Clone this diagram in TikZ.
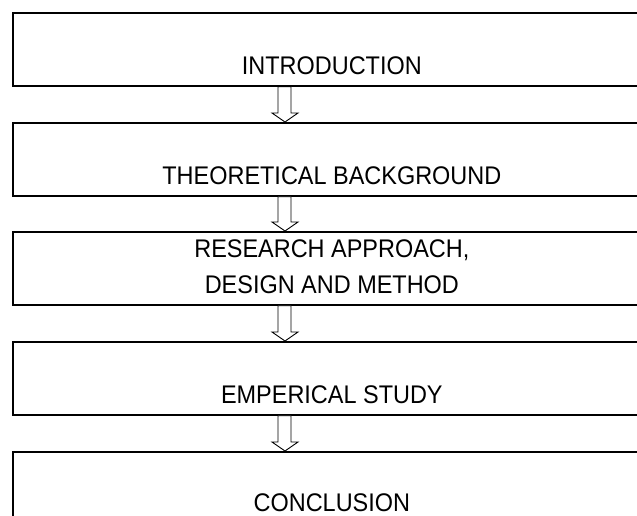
\documentclass[tikz,border=0pt]{standalone}
\usepackage{fontspec}
\setmainfont{Liberation Sans}[FakeStretch=0.92]

\begin{document}
\begin{tikzpicture}[x=1pt,y=-1pt,
  stage/.style={draw,line width=1.7pt,minimum width=638pt,minimum height=73pt,anchor=north west,inner sep=0pt},
  caption/.style={font=\fontsize{25.5}{36}\selectfont,align=center,anchor=south,inner sep=0pt},
  hollow/.style={draw,line width=0.9pt,fill=white,line join=miter}]
  \useasboundingbox (0,0) rectangle (637,516);
  \clip (0,0) rectangle (637,516);
  \node[stage] (intro)  at (12,12)  {};
  \node[stage] (theory) at (12,122) {};
  \node[stage] (method) at (12,231) {};
  \node[stage] (study)  at (12,341) {};
  \node[stage] (concl)  at (12,451) {};
  \node[caption] (introtext)  at ([yshift=12]intro.south)  {INTRODUCTION};
  \node[caption] (theorytext) at ([yshift=12]theory.south) {THEORETICAL BACKGROUND};
  \node[caption] (methodtext) at ([yshift=12]method.south) {RESEARCH APPROACH,\\DESIGN AND METHOD};
  \node[caption] (studytext)  at ([yshift=12]study.south)  {EMPERICAL STUDY};
  \node[caption] (concltext)  at ([yshift=-61]concl.north) {CONCLUSION};
  % hollow arrows between the stages
  \foreach \a/\b in {intro/theory,theory/method,method/study,study/concl}
    \draw[hollow] ([xshift=266]\a.south west) -- ([xshift=266,yshift=9]\b.north west)
      -- ([xshift=260,yshift=9]\b.north west) -- ([xshift=273]\b.north west)
      -- ([xshift=286,yshift=9]\b.north west) -- ([xshift=279,yshift=9]\b.north west)
      -- ([xshift=279]\a.south west) -- cycle;
\end{tikzpicture}
\end{document}
